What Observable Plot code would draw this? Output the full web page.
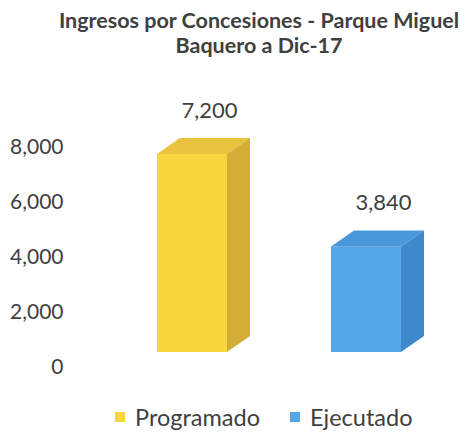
<!DOCTYPE html>
<html><head><meta charset="utf-8">
<script src="https://cdn.jsdelivr.net/npm/d3@7"></script>
<script src="https://cdn.jsdelivr.net/npm/@observablehq/plot@0.6"></script>
<style>
body{margin:0;background:#fff;font-family:Lato,"Open Sans",sans-serif;color:#404040;width:465px;height:436px;overflow:hidden;}
#title{height:62px;margin-left:53px;width:412px;text-align:center;font-weight:bold;font-size:21.5px;line-height:25px;padding-top:8px;box-sizing:border-box;color:#404040;white-space:nowrap;}
#legend{height:39px;display:flex;align-items:center;justify-content:flex-start;font-size:23.5px;color:#404040;padding-left:115px;box-sizing:border-box;}
#legend .item{display:flex;align-items:center;margin-right:30px;}
#legend .sw{width:10px;height:10px;margin-right:10px;}
</style></head><body>
<div id="title">Ingresos por Concesiones - Parque Miguel<br>Baquero a Dic-17</div>
<div id="chart"></div>
<div id="legend"></div>
<script>
const categories = ["Programado", "Ejecutado"];
const seriesValues = [7200, 3840];
const valueLabels = ["7,200", "3,840"];
const yTicks = [0, 2000, 4000, 6000, 8000];

const frontColors = ["#F8D63E", "#55A6E6"];
const topColors = ["#E9C240", "#4A98DC"];
const sideColors = ["#D3AE36", "#3E88CC"];

const data = categories.map((c, i) => ({category: c, value: seriesValues[i], label: valueLabels[i]}));

const DY = -15, DX = 23, DZ = 16;

const chart = Plot.plot({
  width: 465,
  height: 335,
  marginLeft: 70,
  marginRight: 10,
  marginTop: 20,
  marginBottom: 30,
  style: {fontFamily: "Lato, 'Open Sans', sans-serif", fontSize: "21px", color: "#404040", background: "#fff"},
  x: {type: "band", domain: categories, range: [157, 401.3], paddingInner: 0.6, paddingOuter: 0, axis: null},
  y: {domain: [0, 8000], range: [305, 85]},
  color: {domain: categories, range: frontColors},
  marks: [
    Plot.axisY({ticks: yTicks, tickFormat: d3.format(","), tickSize: 0, tickPadding: 7, label: null, fill: "#404040", fontSize: 21}),
    Plot.barY(data, {
      x: "category", y: "value", fill: "category", dy: DY,
      render(index, scales, values, dimensions, context, next) {
        const g = next(index, scales, values, dimensions, context);
        const sel = d3.select(g);
        const bw = scales.x.bandwidth ? scales.x.bandwidth() : scales.scales.x.bandwidth;
        for (const i of index) {
          const x0 = scales.x(data[i].category), x1 = x0 + bw;
          // the group already carries the dy offset
          const yt = scales.y(data[i].value), yb = scales.y(0);
          const top = [[x0, yt], [x1, yt], [x1 + DX, yt - DZ], [x0 + DX, yt - DZ]];
          const side = [[x1, yt], [x1 + DX, yt - DZ], [x1 + DX, yb - DZ], [x1, yb]];
          sel.append("path").attr("d", "M" + top.join("L") + "Z").attr("fill", topColors[i]);
          sel.append("path").attr("d", "M" + side.join("L") + "Z").attr("fill", sideColors[i]);
        }
        return g;
      }
    }),
    Plot.text(data, {x: "category", y: "value", text: "label", dx: 17, dy: -59, fill: "#404040", fontSize: 22, textAnchor: "middle"})
  ]
});
document.getElementById("chart").appendChild(chart);

const legend = document.getElementById("legend");
categories.forEach((c, i) => {
  const item = document.createElement("div");
  item.className = "item";
  const sw = document.createElement("span");
  sw.className = "sw";
  sw.style.background = frontColors[i];
  item.appendChild(sw);
  item.appendChild(document.createTextNode(c));
  legend.appendChild(item);
});
</script>
</body></html>
